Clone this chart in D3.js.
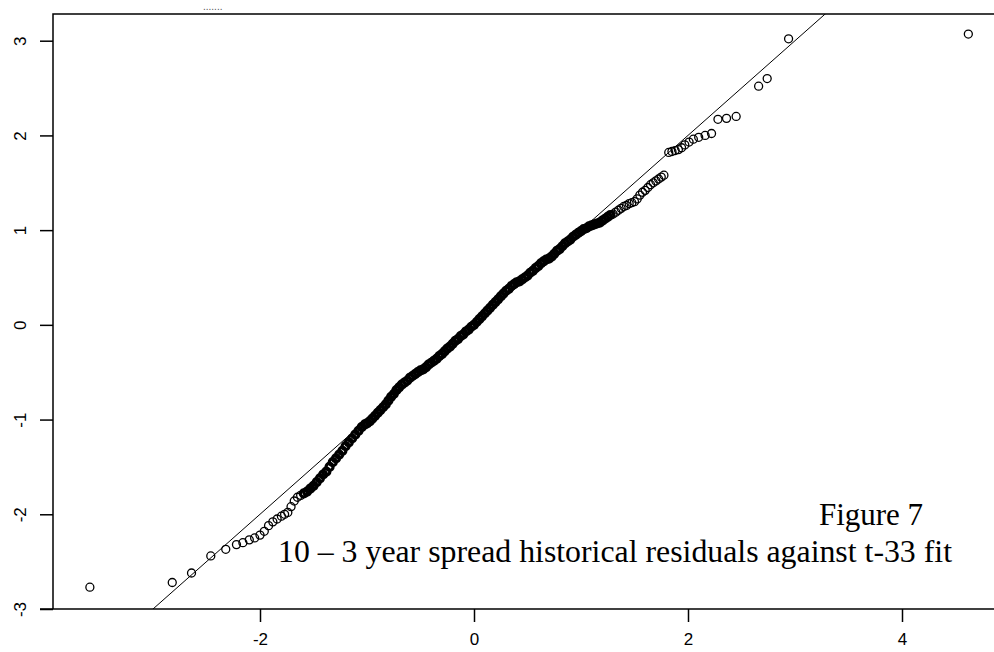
<!DOCTYPE html>
<html><head><meta charset="utf-8">
<script src="https://cdn.jsdelivr.net/npm/d3@7"></script>
<style>body{margin:0;background:#fff}</style>
</head><body>
<svg id="c" width="994" height="652"></svg>
<script>
const xTicks=[-2,0,2,4];
const yTicks=[-3,-2,-1,0,1,2,3];
const theoQ=[-3.59,-2.82,-2.64,-2.46,-2.32,-2.22,-2.16,-2.10,-2.05,-2.00,-1.96,-1.92,-1.88,-1.84,-1.80,-1.77,-1.74,-1.71,-1.68,-1.65,-1.62,-1.59,-1.56,-1.53,-1.50,-1.47,-1.44,-1.41,-1.38,-1.35,-1.32,-1.29,-1.26,-1.23,-1.20,-1.17,-1.14,-1.11,-1.08,-1.05,-1.02,
-1.000,-0.975,-0.950,-0.925,-0.900,-0.875,-0.850,-0.825,-0.800,-0.775,-0.750,-0.725,-0.700,-0.675,-0.650,-0.625,-0.600,-0.575,-0.550,-0.525,-0.500,-0.475,-0.450,-0.425,-0.400,-0.375,-0.350,-0.325,-0.300,-0.275,-0.250,-0.225,-0.200,-0.175,-0.150,-0.125,-0.100,-0.075,-0.050,-0.025,
0,0.025,0.05,0.075,0.1,0.125,0.15,0.175,0.2,0.225,0.25,0.275,0.3,0.325,0.35,0.375,0.4,0.425,0.45,0.475,0.5,0.525,0.55,0.575,0.6,0.625,0.65,0.675,0.7,0.725,0.75,0.775,0.8,0.825,0.85,0.875,0.9,0.925,0.95,0.975,
1.0,1.025,1.05,1.075,1.1,1.125,1.15,1.175,1.2,1.225,1.25,1.275,1.3,1.325,1.35,1.375,1.4,1.425,1.45,1.475,1.5,1.525,1.55,1.575,1.6,1.625,1.65,1.675,1.7,1.725,1.75,1.775,
1.82,1.85,1.88,1.91,1.94,1.97,2.01,2.05,2.10,2.16,2.22,2.28,2.36,2.45,2.66,2.74,2.94,4.62];
const sampleQ=[-2.77,-2.72,-2.62,-2.44,-2.37,-2.32,-2.30,-2.27,-2.25,-2.22,-2.18,-2.12,-2.08,-2.05,-2.02,-2.00,-1.98,-1.92,-1.86,-1.82,-1.80,-1.78,-1.76,-1.73,-1.70,-1.66,-1.62,-1.58,-1.55,-1.50,-1.45,-1.41,-1.37,-1.33,-1.28,-1.24,-1.20,-1.16,-1.12,-1.08,-1.05,
-1.04,-1.02,-0.99,-0.96,-0.93,-0.90,-0.87,-0.84,-0.80,-0.76,-0.73,-0.69,-0.66,-0.63,-0.61,-0.59,-0.56,-0.54,-0.52,-0.50,-0.48,-0.47,-0.45,-0.42,-0.40,-0.38,-0.36,-0.33,-0.31,-0.28,-0.25,-0.23,-0.20,-0.17,-0.15,-0.12,-0.10,-0.07,-0.05,-0.02,
0.00,0.03,0.06,0.09,0.12,0.15,0.18,0.21,0.24,0.27,0.30,0.33,0.36,0.38,0.41,0.43,0.45,0.46,0.48,0.50,0.52,0.55,0.57,0.60,0.62,0.65,0.67,0.69,0.70,0.72,0.75,0.78,0.80,0.83,0.86,0.88,0.90,0.93,0.95,0.97,
0.99,1.01,1.02,1.04,1.05,1.06,1.07,1.08,1.10,1.12,1.14,1.16,1.17,1.19,1.21,1.23,1.25,1.26,1.28,1.29,1.30,1.33,1.37,1.40,1.42,1.45,1.48,1.50,1.52,1.54,1.56,1.58,
1.82,1.83,1.84,1.85,1.87,1.90,1.93,1.96,1.98,2.00,2.02,2.17,2.18,2.20,2.52,2.60,3.02,3.07];
const refLine={intercept:0,slope:1};
const captionLines=["Figure 7","10 – 3 year spread historical residuals against t-33 fit"];

const svg=d3.select("#c");
const L=53,R=994,T=14,B=609;
const x=d3.scaleLinear().domain([-2,0]).range([260,474]);
const y=d3.scaleLinear().domain([-3,3]).range([609,40.7]);

svg.append("clipPath").attr("id","cl").append("rect").attr("x",L).attr("y",T).attr("width",R-L).attr("height",B-T);
const g=svg.append("g").attr("clip-path","url(#cl)");
const x0=x.invert(L),x1=x.invert(R);
g.append("line").attr("x1",x(x0)).attr("y1",y(refLine.intercept+refLine.slope*x0))
 .attr("x2",x(x1)).attr("y2",y(refLine.intercept+refLine.slope*x1))
 .attr("stroke","#000").attr("stroke-width",1);
const pts=theoQ.map((v,i)=>[v,sampleQ[i]]);
g.selectAll("circle").data(pts).join("circle")
 .attr("cx",d=>x(d[0])).attr("cy",d=>y(d[1])).attr("r",d=>(d[0]>-1.6&&d[0]<1.3)?3.5:4)
 .attr("fill","none").attr("stroke","#000")
 .attr("stroke-width",d=>(d[0]>-1.6&&d[0]<1.3)?3.2:1.3);

svg.append("path").attr("d",`M${L},${B}V${T}H${R}`).attr("fill","none").attr("stroke","#000").attr("stroke-width",1.5);
svg.append("line").attr("x1",L-13).attr("x2",R).attr("y1",B).attr("y2",B).attr("stroke","#000").attr("stroke-width",1.5);

const fmt=d=>String(d);
const xa=svg.append("g").attr("transform",`translate(0,${B})`).call(d3.axisBottom(x).tickValues(xTicks).tickSize(13).tickFormat(fmt));
xa.select(".domain").remove();
xa.selectAll("text").attr("font-family","Liberation Sans, Arial").attr("font-size",17).attr("dy","1.2em").attr("fill","#000");
xa.selectAll("line").attr("stroke-width",1.5);
const ya=svg.append("g").attr("transform",`translate(${L},0)`).call(d3.axisLeft(y).tickValues(yTicks).tickSize(13).tickFormat(fmt));
ya.select(".domain").remove();
ya.selectAll("line").attr("stroke-width",1.5);
ya.selectAll("text").attr("font-family","Liberation Sans, Arial").attr("font-size",17).attr("fill","#000")
 .attr("text-anchor","middle").attr("x",0).attr("dy",0)
 .attr("transform","translate(-33,0) rotate(-90)").attr("y",6);

svg.append("text").attr("x",203).attr("y",10).attr("font-size",10).attr("fill","#555").attr("font-family","Liberation Sans").text(".......");
svg.append("text").attr("x",819).attr("y",525).attr("font-family","Liberation Serif, Times New Roman").attr("font-size",31).attr("textLength",104).text(captionLines[0]);
svg.append("text").attr("x",278).attr("y",562).attr("font-family","Liberation Serif, Times New Roman").attr("font-size",31).attr("textLength",674).attr("lengthAdjust","spacingAndGlyphs").text(captionLines[1]);
</script>
</body></html>
